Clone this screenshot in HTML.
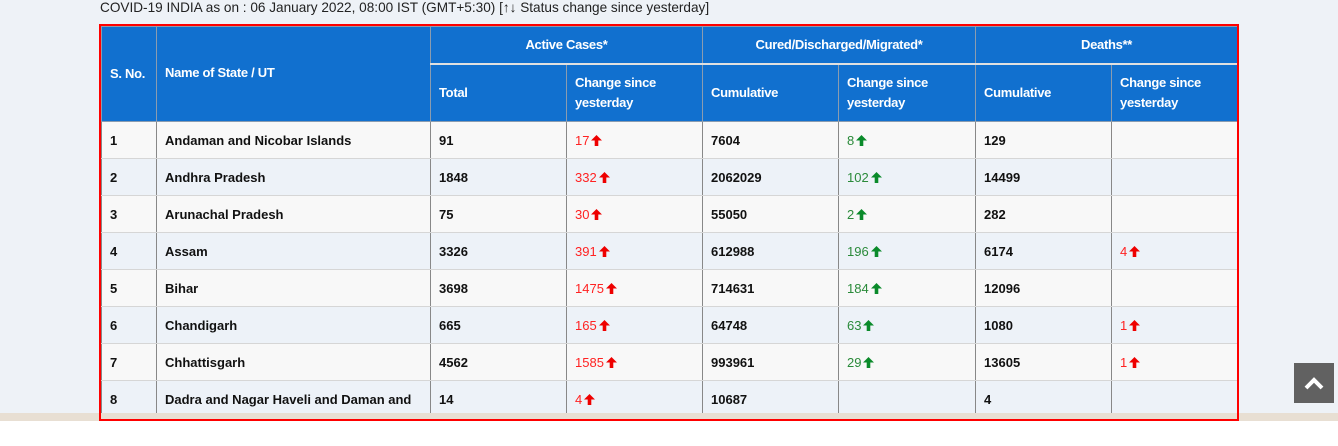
<!DOCTYPE html>
<html><head><meta charset="utf-8"><style>
body{margin:0;width:1338px;height:446px;overflow:hidden;background:#fff;font-family:"Liberation Sans",sans-serif;position:relative}
#bg{position:absolute;left:0;top:0;width:1338px;height:413px;background:#eef2f7}
#bar{position:absolute;left:0;top:413px;width:1338px;height:8px;background:#e8dfd3;z-index:2}
#title{position:absolute;left:100px;top:0px;font-size:13.6px;color:#222}
#wrap{position:absolute;left:101px;top:26px;width:1136px;height:393px;overflow:hidden}
#frame{position:absolute;left:99px;top:24px;width:1136px;height:393px;border:2px solid #f00;z-index:3}
table{border-collapse:collapse;table-layout:fixed;width:1136px}
th{background:#1170cf;color:#fff;font-size:13px;font-weight:bold;text-align:left;padding:0 8px;border:1px solid #8a9cb0;letter-spacing:-0.3px;line-height:20px}
th.c{text-align:center}
tr.h1 th{height:36px}
tr.h2 th{height:56px;border-top:2px solid #e0e0e0}
td{height:36px;border-left:1px solid #888;border-right:1px solid #888;border-bottom:1px solid #d6d6d6;padding:0 8px;font-size:13px;font-weight:bold;color:#111;white-space:nowrap;overflow:hidden}
tr.o td{background:#f8f8f8}tr.e td{background:#edf2f8}
.r{color:#f22;font-weight:normal}.g{color:#2a8a3a;font-weight:normal}
.ra,.ga{display:inline-block;width:11px;height:11px;vertical-align:-1px;margin-left:2px}
#top{position:absolute;left:1294px;top:363px;width:40px;height:40px;background:#616161}
</style></head><body>
<div id="bg"></div>
<div id="bar"></div>
<div id="frame"></div>
<div id="title">COVID-19 INDIA as on : 06 January 2022, 08:00 IST (GMT+5:30) [↑↓ Status change since yesterday]</div>
<svg width="0" height="0" style="position:absolute"><defs><symbol id="up" viewBox="0 0 11 11"><path d="M5.5 0 L11 5.5 L7.3 5.5 L7.3 11 L3.7 11 L3.7 5.5 L0 5.5 Z"/></symbol></defs></svg>
<div id="wrap">
<table>
<colgroup><col style="width:55px"><col style="width:274px"><col style="width:136px"><col style="width:136px"><col style="width:136px"><col style="width:137px"><col style="width:136px"><col style="width:126px"></colgroup>
<tr class="h1"><th rowspan="2">S. No.</th><th rowspan="2" style="vertical-align:top;padding-top:36px">Name of State / UT</th><th colspan="2" class="c">Active Cases*</th><th colspan="2" class="c">Cured/Discharged/Migrated*</th><th colspan="2" class="c">Deaths**</th></tr>
<tr class="h2"><th>Total</th><th>Change since yesterday</th><th>Cumulative</th><th>Change since yesterday</th><th>Cumulative</th><th>Change since yesterday</th></tr>
<tr class="o"><td>1</td><td>Andaman and Nicobar Islands</td><td>91</td><td><span class="r">17</span><svg class="ra" fill="#e00"><use href="#up"/></svg></td><td>7604</td><td><span class="g">8</span><svg class="ga" fill="#0a8a2a"><use href="#up"/></svg></td><td>129</td><td></td></tr>
<tr class="e"><td>2</td><td>Andhra Pradesh</td><td>1848</td><td><span class="r">332</span><svg class="ra" fill="#e00"><use href="#up"/></svg></td><td>2062029</td><td><span class="g">102</span><svg class="ga" fill="#0a8a2a"><use href="#up"/></svg></td><td>14499</td><td></td></tr>
<tr class="o"><td>3</td><td>Arunachal Pradesh</td><td>75</td><td><span class="r">30</span><svg class="ra" fill="#e00"><use href="#up"/></svg></td><td>55050</td><td><span class="g">2</span><svg class="ga" fill="#0a8a2a"><use href="#up"/></svg></td><td>282</td><td></td></tr>
<tr class="e"><td>4</td><td>Assam</td><td>3326</td><td><span class="r">391</span><svg class="ra" fill="#e00"><use href="#up"/></svg></td><td>612988</td><td><span class="g">196</span><svg class="ga" fill="#0a8a2a"><use href="#up"/></svg></td><td>6174</td><td><span class="r">4</span><svg class="ra" fill="#e00"><use href="#up"/></svg></td></tr>
<tr class="o"><td>5</td><td>Bihar</td><td>3698</td><td><span class="r">1475</span><svg class="ra" fill="#e00"><use href="#up"/></svg></td><td>714631</td><td><span class="g">184</span><svg class="ga" fill="#0a8a2a"><use href="#up"/></svg></td><td>12096</td><td></td></tr>
<tr class="e"><td>6</td><td>Chandigarh</td><td>665</td><td><span class="r">165</span><svg class="ra" fill="#e00"><use href="#up"/></svg></td><td>64748</td><td><span class="g">63</span><svg class="ga" fill="#0a8a2a"><use href="#up"/></svg></td><td>1080</td><td><span class="r">1</span><svg class="ra" fill="#e00"><use href="#up"/></svg></td></tr>
<tr class="o"><td>7</td><td>Chhattisgarh</td><td>4562</td><td><span class="r">1585</span><svg class="ra" fill="#e00"><use href="#up"/></svg></td><td>993961</td><td><span class="g">29</span><svg class="ga" fill="#0a8a2a"><use href="#up"/></svg></td><td>13605</td><td><span class="r">1</span><svg class="ra" fill="#e00"><use href="#up"/></svg></td></tr>
<tr class="e"><td>8</td><td>Dadra and Nagar Haveli and Daman and</td><td>14</td><td><span class="r">4</span><svg class="ra" fill="#e00"><use href="#up"/></svg></td><td>10687</td><td></td><td>4</td><td></td></tr>
</table></div>
<div id="top"><svg width="40" height="40"><polyline points="12,25 20,17 28,25" fill="none" stroke="#fff" stroke-width="4"/></svg></div>
</body></html>
